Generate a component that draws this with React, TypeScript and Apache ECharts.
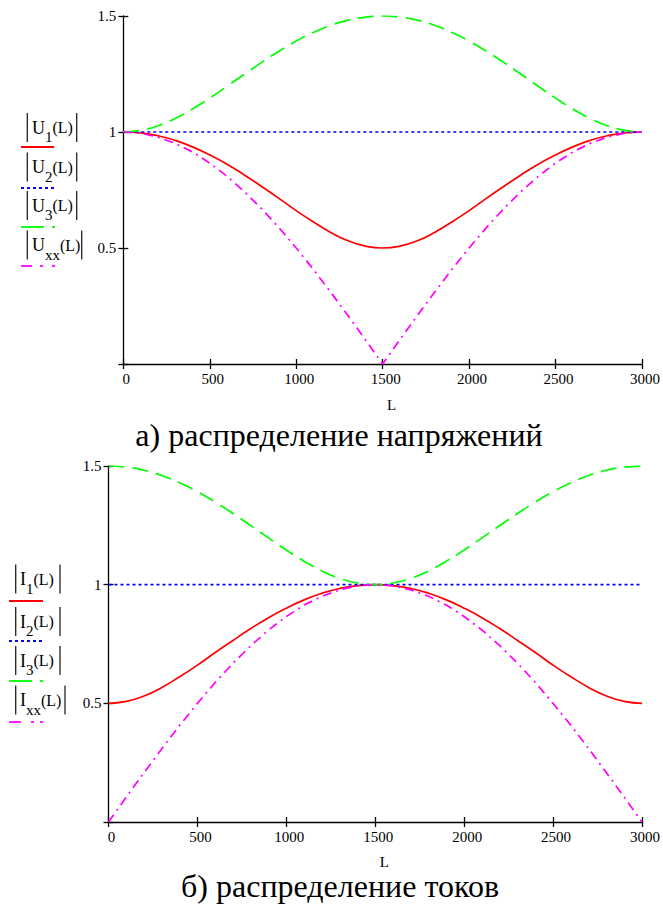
import React, { useEffect, useRef } from "react";
import * as echarts from "echarts";

// ---- data ----
const L_POINTS = [0, 100, 200, 300, 400, 500, 600, 700, 800, 900, 1000, 1100, 1200, 1300, 1400, 1500, 1600, 1700, 1800, 1900, 2000, 2100, 2200, 2300, 2400, 2500, 2600, 2700, 2800, 2900, 3000];

const U1 = [1.000, 0.996, 0.984, 0.964, 0.936, 0.901, 0.861, 0.815, 0.765, 0.714, 0.661, 0.612, 0.567, 0.531, 0.508, 0.500, 0.508, 0.531, 0.567, 0.612, 0.661, 0.714, 0.765, 0.815, 0.861, 0.901, 0.936, 0.964, 0.984, 0.996, 1.000];
const U2_L = [0, 3000];
const U2 = [1.0, 1.0];
const U3 = [1.000, 1.007, 1.027, 1.058, 1.099, 1.146, 1.197, 1.249, 1.300, 1.348, 1.392, 1.429, 1.460, 1.482, 1.495, 1.500, 1.495, 1.482, 1.460, 1.429, 1.392, 1.348, 1.300, 1.249, 1.197, 1.146, 1.099, 1.058, 1.027, 1.007, 1.000];
const UXX = [1.000, 0.995, 0.978, 0.951, 0.914, 0.866, 0.809, 0.743, 0.669, 0.588, 0.500, 0.407, 0.309, 0.208, 0.105, 0.000, 0.105, 0.208, 0.309, 0.407, 0.500, 0.588, 0.669, 0.743, 0.809, 0.866, 0.914, 0.951, 0.978, 0.995, 1.000];

const I1 = [0.500, 0.508, 0.531, 0.567, 0.612, 0.661, 0.714, 0.765, 0.815, 0.861, 0.901, 0.936, 0.964, 0.984, 0.996, 1.000, 0.996, 0.984, 0.964, 0.936, 0.901, 0.861, 0.815, 0.765, 0.714, 0.661, 0.612, 0.567, 0.531, 0.508, 0.500];
const I2_L = [0, 3000];
const I2 = [1.0, 1.0];
const I3 = [1.500, 1.495, 1.482, 1.460, 1.429, 1.392, 1.348, 1.300, 1.249, 1.197, 1.146, 1.099, 1.058, 1.027, 1.007, 1.000, 1.007, 1.027, 1.058, 1.099, 1.146, 1.197, 1.249, 1.300, 1.348, 1.392, 1.429, 1.460, 1.482, 1.495, 1.500];
const IXX = [0.000, 0.105, 0.208, 0.309, 0.407, 0.500, 0.588, 0.669, 0.743, 0.809, 0.866, 0.914, 0.951, 0.978, 0.995, 1.000, 0.995, 0.978, 0.951, 0.914, 0.866, 0.809, 0.743, 0.669, 0.588, 0.500, 0.407, 0.309, 0.208, 0.105, 0.000];

const X_MIN = 0;
const X_MAX = 3000;
const X_STEP = 500;
const Y_MIN = 0;
const Y_MAX = 1.5;
const Y_STEP = 0.5;

const TITLE_TOP = "а) распределение напряжений";
const TITLE_BOTTOM = "б) распределение токов";
const X_NAME = "L";

const SERIF = "Liberation Serif, Times New Roman, serif";
const RED = "#ff0000";
const BLUE = "#0000ff";
const GREEN = "#00ff00";
const MAGENTA = "#ff00ff";

function pairs(xs: number[], ys: number[]) {
  return xs.map((x, i) => [x, ys[i]]);
}

function axisPair(kind: "x" | "y", gridIndex: number) {
  const isX = kind === "x";
  const common: any = {
    type: "value",
    gridIndex,
    min: isX ? X_MIN : Y_MIN,
    max: isX ? X_MAX : Y_MAX,
    interval: isX ? X_STEP : Y_STEP,
    position: isX ? "bottom" : "left",
    offset: 0,
    splitLine: { show: false },
  };
  const main = {
    ...common,
    name: isX ? X_NAME : "",
    nameLocation: "middle",
    nameGap: gridIndex === 0 ? 33 : 32,
    nameTextStyle: { fontFamily: SERIF, fontSize: 15, color: "#000", padding: [0, 0, 0, 18] },
    axisLine: { show: true, lineStyle: { color: "#000", width: 1.3 } },
    axisTick: { show: true, inside: false, length: 5, lineStyle: { color: "#000", width: 1.3 } },
    axisLabel: isX
      ? {
          show: true,
          margin: 7,
          fontFamily: SERIF,
          fontSize: 15,
          color: "#000",
          padding: [0, 0, 0, 6],
          showMinLabel: true,
          showMaxLabel: true,
          formatter: (v: number) => String(v),
        }
      : {
          show: true,
          margin: 7,
          fontFamily: SERIF,
          fontSize: 15,
          color: "#000",
          padding: [7, 0, 0, 0],
          showMinLabel: true,
          showMaxLabel: true,
          formatter: (v: number) => (v === 0 ? "" : String(v)),
        },
  };
  const inner = {
    ...common,
    axisLine: { show: false },
    axisLabel: { show: false },
    axisTick: { show: true, inside: true, length: 5, lineStyle: { color: "#000", width: 1.3 } },
  };
  return [main, inner];
}

function seriesFor(
  xi: number,
  name: string,
  xs: number[],
  ys: number[],
  color: string,
  type: any,
  smooth: boolean
) {
  return {
    type: "line",
    name,
    xAxisIndex: xi,
    yAxisIndex: xi,
    data: pairs(xs, ys),
    smooth,
    showSymbol: false,
    symbol: "none",
    lineStyle: { color, width: 1.7, type },
    silent: true,
  };
}

function legendRow(
  base: string,
  sub: string,
  cy: number,
  textX: number,
  barL: number,
  barR: number
) {
  const els: any[] = [];
  els.push({
    type: "text",
    x: textX,
    y: cy,
    style: {
      text: `{u|${base}}{s|${sub}}{p|(L)}`,
      verticalAlign: "middle",
      align: "left",
      rich: {
        u: { fontFamily: SERIF, fontSize: 18, lineHeight: 34, fill: "#000" },
        s: { fontFamily: SERIF, fontSize: 15, lineHeight: 14, verticalAlign: "bottom", fill: "#000" },
        p: { fontFamily: SERIF, fontSize: 16, lineHeight: 34, fill: "#000" },
      },
    },
  });
  const bar = (x: number) => ({
    type: "line",
    shape: { x1: x, y1: cy - 14.5, x2: x, y2: cy + 14.5 },
    style: { stroke: "#222", lineWidth: 1.3 },
  });
  els.push(bar(barL), bar(barR));
  return els;
}

function seg(x1: number, x2: number, y: number, color: string, dash?: number[]) {
  return {
    type: "line",
    shape: { x1, y1: y, x2, y2: y },
    style: { stroke: color, lineWidth: 1.8, lineDash: dash },
  };
}

export default function App() {
  const ref = useRef<HTMLDivElement>(null);

  useEffect(() => {
    document.body.style.margin = "0";
    if (!ref.current) return;
    const chart = echarts.init(ref.current, undefined, { renderer: "svg" });

    const [x0, x0i] = axisPair("x", 0);
    const [x1, x1i] = axisPair("x", 1);
    const [y0, y0i] = axisPair("y", 0);
    const [y1, y1i] = axisPair("y", 1);

    const graphic: any[] = [];
    // top legend
    const topRows = [
      { sub: "1", cy: 127.5, r: 76.7 },
      { sub: "2", cy: 167, r: 76.7 },
      { sub: "3", cy: 205.5, r: 76.7 },
      { sub: "xx", cy: 245, r: 81.7 },
    ];
    topRows.forEach((r) => graphic.push(...legendRow("U", r.sub, r.cy, 32, 27.3, r.r)));
    graphic.push(seg(21, 54, 147, RED));
    graphic.push(seg(21, 54, 188, BLUE, [3, 3]));
    graphic.push(seg(21, 44, 227, GREEN), seg(52, 55, 227, GREEN));
    graphic.push(seg(21, 32, 266, MAGENTA), seg(40, 43, 266, MAGENTA), seg(52, 55, 266, MAGENTA));

    // bottom legend
    const botRows = [
      { sub: "1", cy: 579, r: 60 },
      { sub: "2", cy: 621.5, r: 60 },
      { sub: "3", cy: 660.5, r: 60 },
      { sub: "xx", cy: 700, r: 65 },
    ];
    botRows.forEach((r) => graphic.push(...legendRow("I", r.sub, r.cy, 20, 15.7, r.r)));
    graphic.push(seg(9, 43, 601, RED));
    graphic.push(seg(9, 43, 641, BLUE, [3, 3]));
    graphic.push(seg(9, 32, 681, GREEN), seg(40, 43, 681, GREEN));
    graphic.push(seg(9, 21, 722, MAGENTA), seg(31, 34, 722, MAGENTA), seg(40, 43, 722, MAGENTA));

    // titles
    graphic.push({
      type: "text",
      x: 339,
      y: 435,
      style: {
        text: TITLE_TOP,
        fontFamily: SERIF,
        fontSize: 32,
        lineHeight: 22,
        fill: "#000",
        align: "center",
        verticalAlign: "middle",
      },
    });
    graphic.push({
      type: "text",
      x: 340,
      y: 886,
      style: {
        text: TITLE_BOTTOM,
        fontFamily: SERIF,
        fontSize: 32,
        lineHeight: 22,
        fill: "#000",
        align: "center",
        verticalAlign: "middle",
      },
    });

    chart.setOption({
      animation: false,
      backgroundColor: "#ffffff",
      textStyle: { fontFamily: SERIF },
      grid: [
        { left: 123.3, top: 16, width: 519.4, height: 348, containLabel: false },
        { left: 108.5, top: 466, width: 538.2, height: 356, containLabel: false },
      ],
      xAxis: [x0, x0i, x1, x1i],
      yAxis: [y0, y0i, y1, y1i],
      series: [
        seriesFor(0, "|U1(L)|", L_POINTS, U1, RED, "solid", true),
        seriesFor(0, "|U2(L)|", U2_L, U2, BLUE, [3, 3], false),
        seriesFor(0, "|U3(L)|", L_POINTS, U3, GREEN, [16, 8], true),
        seriesFor(0, "|Uxx(L)|", L_POINTS, UXX, MAGENTA, [9, 5, 2, 5], false),
        seriesFor(2, "|I1(L)|", L_POINTS, I1, RED, "solid", true),
        seriesFor(2, "|I2(L)|", I2_L, I2, BLUE, [3, 3], false),
        seriesFor(2, "|I3(L)|", L_POINTS, I3, GREEN, [16, 8], true),
        seriesFor(2, "|Ixx(L)|", L_POINTS, IXX, MAGENTA, [9, 5, 2, 5], false),
      ],
      graphic,
    });

    return () => {
      chart.dispose();
    };
  }, []);

  return <div ref={ref} style={{ width: 663, height: 904 }} />;
}
